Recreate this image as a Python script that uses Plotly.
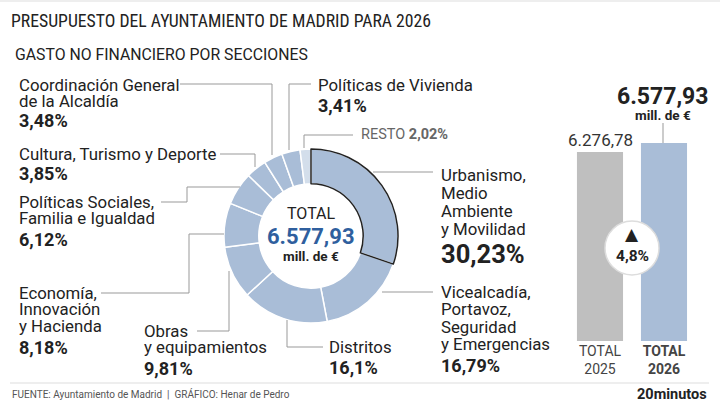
import plotly.graph_objects as go

# datos (porcentaje del gasto no financiero por secciones)
secciones = ["Urbanismo, Medio Ambiente y Movilidad",
             "Vicealcadía, Portavoz, Seguridad y Emergencias",
             "Distritos",
             "Obras y equipamientos",
             "Economía, Innovación y Hacienda",
             "Políticas Sociales, Familia e Igualdad",
             "Cultura, Turismo y Deporte",
             "Coordinación General de la Alcaldía",
             "Políticas de Vivienda",
             "RESTO"]
porcentajes = [30.23, 16.79, 16.1, 9.81, 8.18, 6.12, 3.85, 3.48, 3.41, 2.02]

anios = ["TOTAL 2025", "TOTAL 2026"]
totales = [6276.78, 6577.93]
variacion = 4.8

W, H = 720, 405
AZUL = "#a9bdd7"
AZUL_CLARO = "#d3deeb"
GRIS = "#bfbfbf"
TXT = "#222222"
LINEA = "#999999"
FONT = "Roboto"
FONT_TIT = "Liberation Sans Narrow, Roboto Condensed, Roboto"


def px(x):
    return x / W


def py(y):
    return 1 - y / H


def fmt(v, dec=2):
    s = f"{v:,.{dec}f}"
    return s.replace(",", "X").replace(".", ",").replace("X", ".")


fig = go.Figure()

colores = [AZUL] * (len(secciones) - 1) + [AZUL_CLARO]
dom = dict(x=[px(224), px(398)], y=[py(323), py(149)])

fig.add_trace(go.Pie(
    labels=secciones, values=porcentajes, sort=False, direction="clockwise",
    hole=0.6, domain=dom, textinfo="none", hoverinfo="skip",
    marker=dict(colors=colores, line=dict(color="white", width=1.5)),
    showlegend=False,
))
# contorno de la sección principal
fig.add_trace(go.Pie(
    labels=secciones, values=porcentajes, sort=False, direction="clockwise",
    hole=0.6, domain=dom, textinfo="none", hoverinfo="skip",
    marker=dict(colors=["rgba(0,0,0,0)"] * len(secciones),
                line=dict(color=["#222222"] + ["rgba(0,0,0,0)"] * (len(secciones) - 1),
                          width=1.5)),
    showlegend=False,
))

fig.add_trace(go.Bar(
    x=anios, y=totales, marker=dict(color=[GRIS, AZUL], line=dict(width=0)),
    hoverinfo="skip", showlegend=False, width=0.72,
))

ann = []


def texto(x, y, t, size=15, bold=False, color=TXT, anchor="left", family=FONT):
    if bold:
        t = f"<b>{t}</b>"
    ann.append(dict(x=px(x), y=py(y), xref="paper", yref="paper", text=t,
                    showarrow=False, xanchor=anchor, yanchor="middle",
                    font=dict(family=family, size=size, color=color)))


def pct(i):
    return fmt(porcentajes[i]) + "%" if i != 2 else "16,1%"


# etiquetas de las secciones: (índice, x, líneas, y de cada línea, y del %, tamaño del %)
etiquetas = [
    (0, 439, ["Urbanismo,", "Medio", "Ambiente", "y Movilidad"], [175, 193, 211, 229], 254, 25.5),
    (1, 439, ["Vicealcadía,", "Portavoz,", "Seguridad", "y Emergencias"], [292, 309, 327, 344], 365, 18),
    (2, 327, ["Distritos"], [347], 367, 18),
    (3, 142, ["Obras", "y equipamientos"], [331, 347], 368, 18),
    (4, 17, ["Economía,", "Innovación", "y Hacienda"], [293, 309, 326], 347, 18),
    (5, 17, ["Políticas Sociales,", "Familia e Igualdad"], [202, 218], 239, 18),
    (6, 17, ["Cultura, Turismo y Deporte"], [154], 173, 18),
    (7, 17, ["Coordinación General", "de la Alcaldía"], [85, 101], 120, 18),
    (8, 316, ["Políticas de Vivienda"], [85], 105, 18),
]
for i, x, lineas, ys, ypct, spct in etiquetas:
    for l, y in zip(lineas, ys):
        texto(x, y, l, 16.8)
    texto(x, ypct, pct(i), spct, bold=True)

texto(359, 135, f"RESTO <b>{pct(9)}</b>", 14.5, color="#666666")

# centro del anillo
texto(311, 214, "TOTAL", 16, anchor="center")
texto(311, 237, fmt(totales[1]), 22, bold=True, color="#2f5f9e", anchor="center")
texto(311, 256, "mill. de €", 13.5, bold=True, anchor="center")

# barras
texto(600, 140, fmt(totales[0]), 17, color="#333333", anchor="center")
texto(663, 96, fmt(totales[1]), 23, bold=True, anchor="center")
texto(663, 115, "mill. de €", 13.5, bold=True, anchor="center")
texto(632, 234, "▲", 17, anchor="center", family="DejaVu Sans")
texto(632, 256, fmt(variacion, 1) + "%", 15.5, bold=True, anchor="center")

# títulos y pie
texto(9, 21, "PRESUPUESTO DEL AYUNTAMIENTO DE MADRID PARA 2026", 17.7, family=FONT_TIT)
texto(13, 55, "GASTO NO FINANCIERO POR SECCIONES", 15.8)
texto(10, 394, "FUENTE: Ayuntamiento de Madrid  |  GRÁFICO: Henar de Pedro", 10, color="#555555")
texto(709, 394, "20minutos", 14.5, bold=True, anchor="right")

shapes = []


def linea(puntos, color=LINEA, width=1):
    d = "M " + " L ".join(f"{px(x)},{py(y)}" for x, y in puntos)
    shapes.append(dict(type="path", path=d, xref="paper", yref="paper",
                       line=dict(color=color, width=width)))


linea([(180, 84), (272, 84), (272, 155)])
linea([(311, 84), (289, 84), (289, 150)])
linea([(353, 135), (304, 135), (304, 148)])
linea([(220, 154), (255, 154), (255, 167)])
linea([(161, 202), (187, 202), (187, 187), (240, 187)])
linea([(101, 293), (189, 293), (189, 234), (224, 234)])
linea([(197, 331), (229, 331), (229, 271)])
linea([(323, 347), (287, 347), (287, 320)])
linea([(373, 172), (433, 172)])
linea([(382, 292), (433, 292)])
linea([(663, 123), (663, 143)])
linea([(10, 383), (709, 383)], color="#dddddd")
linea([(0, 1), (720, 1)], color="#dddddd")

shapes.append(dict(type="circle", xref="paper", yref="paper",
                   x0=px(605), x1=px(659), y0=py(275), y1=py(221),
                   fillcolor="white", line=dict(color="#dddddd", width=1.5)))

fig.update_layout(
    width=W, height=H, margin=dict(l=0, r=0, t=0, b=0),
    paper_bgcolor="white", plot_bgcolor="white",
    annotations=ann, shapes=shapes,
    font=dict(family=FONT, color=TXT),
    xaxis=dict(domain=[px(568), px(696)], type="category",
               tickvals=anios, ticktext=["TOTAL<br>2025", "<b>TOTAL<br>2026</b>"],
               tickfont=dict(size=14, color="#444444"), showgrid=False,
               zeroline=False, showline=False, ticks=""),
    yaxis=dict(domain=[py(341), py(143)], range=[0, totales[1]], visible=False),
)

fig.write_html("out.html", config={"displayModeBar": False})

# quitar el margen del body para que la figura empiece en (0, 0)
with open("out.html", encoding="utf-8") as f:
    html = f.read()
html = html.replace("<head>", "<head><style>body{margin:0;}</style>", 1)
with open("out.html", "w", encoding="utf-8") as f:
    f.write(html)
